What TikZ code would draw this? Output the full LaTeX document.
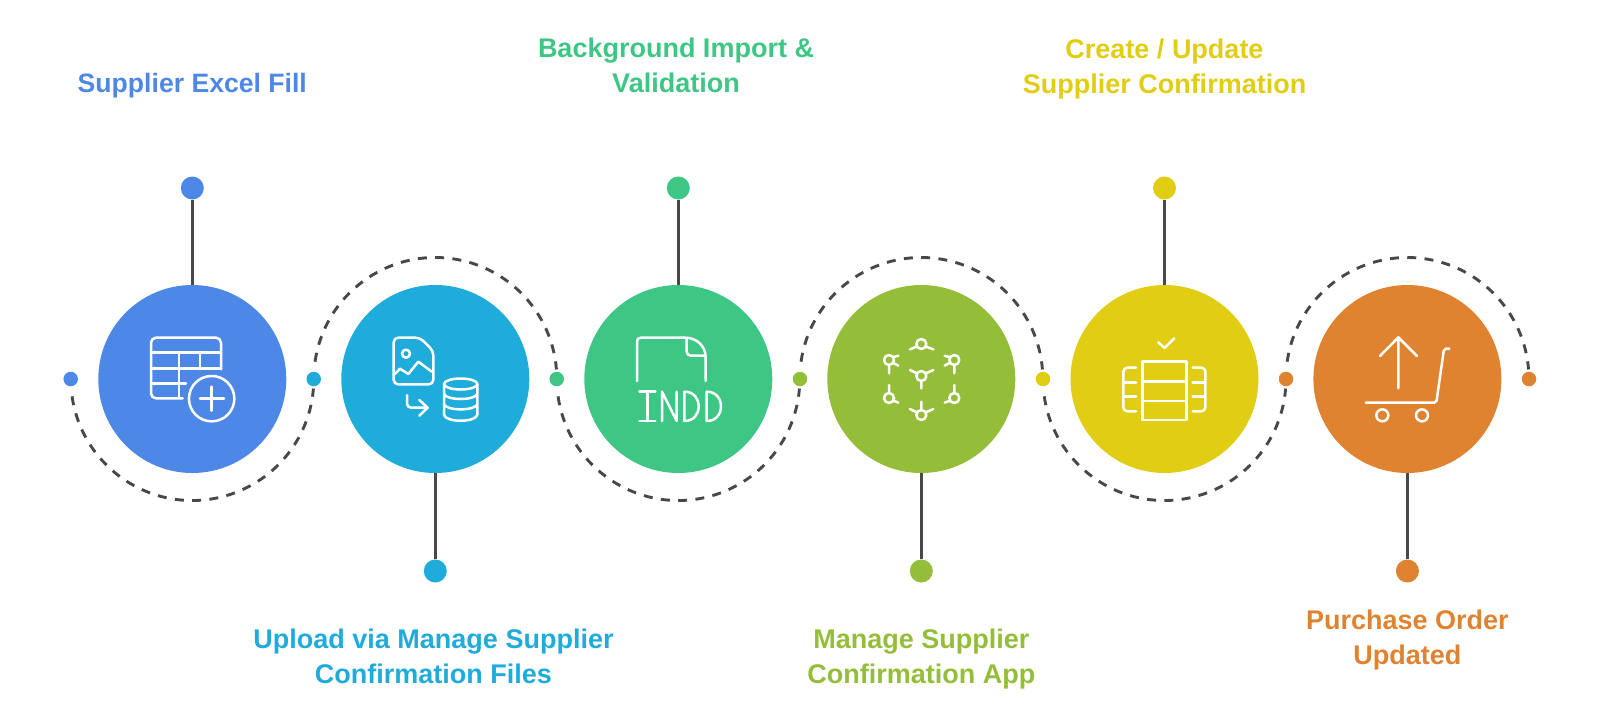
\documentclass[tikz,border=0pt]{standalone}
\usepackage{fontspec}
\setmainfont{Liberation Sans}
\definecolor{cA}{HTML}{4E88E6}
\definecolor{cB}{HTML}{1FACDA}
\definecolor{cC}{HTML}{3EC685}
\definecolor{cD}{HTML}{94BE39}
\definecolor{cE}{HTML}{E0CD14}
\definecolor{cF}{HTML}{DF8331}
\definecolor{ink}{HTML}{484848}
\tikzset{
  bigc/.style={circle,minimum size=188pt,inner sep=0pt,fill=#1},
  smalld/.style={circle,minimum size=14.5pt,inner sep=0pt,fill=#1},
  endd/.style={circle,minimum size=23pt,inner sep=0pt,fill=#1},
  stem/.style={draw=ink,line width=3.4pt},
  dash arc/.style={draw=ink,line width=2.9pt,dash pattern=on 9pt off 8.33pt},
  lbl/.style={font=\fontsize{27}{35}\selectfont\bfseries,align=center,text=#1,inner sep=0pt},
  ico/.style={draw=white,line width=2.5pt,line cap=round,line join=round},
}
\begin{document}
\begin{tikzpicture}[x=1pt,y=-1pt]
\useasboundingbox (0,0) rectangle (1600,716);
% big circles
\node[bigc=cA] (c1) at (192.3,379) {};
\node[bigc=cB] (c2) at (435.3,379) {};
\node[bigc=cC] (c3) at (678.3,379) {};
\node[bigc=cD] (c4) at (921.3,379) {};
\node[bigc=cE] (c5) at (1164.5,379) {};
\node[bigc=cF] (c6) at (1407.4,379) {};
% dashed arcs
\path (c1) ++(188.2:121.5pt) coordinate (a1);
\draw[dash arc] (a1) arc[start angle=188.2,end angle=355.5,radius=121.5pt];
\path (c2) ++(171.8:121.5pt) coordinate (a2);
\draw[dash arc] (a2) arc[start angle=171.8,end angle=4.5,radius=121.5pt];
\path (c3) ++(188.2:121.5pt) coordinate (a3);
\draw[dash arc] (a3) arc[start angle=188.2,end angle=355.5,radius=121.5pt];
\path (c4) ++(171.8:121.5pt) coordinate (a4);
\draw[dash arc] (a4) arc[start angle=171.8,end angle=4.5,radius=121.5pt];
\path (c5) ++(188.2:121.5pt) coordinate (a5);
\draw[dash arc] (a5) arc[start angle=188.2,end angle=355.5,radius=121.5pt];
\path (c6) ++(171.8:121.5pt) coordinate (a6);
\draw[dash arc] (a6) arc[start angle=171.8,end angle=4.5,radius=121.5pt];
% small dots
\node[smalld=cA] (d1) at (70.7,379) {};
\node[smalld=cB] (d2) at (313.7,379) {};
\node[smalld=cC] (d3) at (556.7,379) {};
\node[smalld=cD] (d4) at (800,379) {};
\node[smalld=cE] (d5) at (1043,379) {};
\node[smalld=cF] (d6) at (1286,379) {};
\node[smalld=cF] (d7) at (1529,379) {};
% stems and end dots
\node[endd=cA] (t1) at (192.3,188) {};
\node[endd=cB] (t2) at (435.3,571) {};
\node[endd=cC] (t3) at (678.3,188) {};
\node[endd=cD] (t4) at (921.3,571) {};
\node[endd=cE] (t5) at (1164.5,188) {};
\node[endd=cF] (t6) at (1407.4,571) {};
\draw[stem] (t1) -- (c1);
\draw[stem] (t2) -- (c2);
\draw[stem] (t3) -- (c3);
\draw[stem] (t4) -- (c4);
\draw[stem] (t5) -- (c5);
\draw[stem] (t6) -- (c6);
% labels
\node[lbl=cA,font=\fontsize{26.6}{35}\selectfont\bfseries] (l1) at (192.3,86) {Supplier Excel Fill};
\node[lbl=cB] (l2) at (433.5,656) {Upload via Manage Supplier\\Confirmation Files};
\node[lbl=cC] (l3) at (676,65.5) {Background Import \&\\Validation};
\node[lbl=cD] (l4) at (921.3,659) {Manage Supplier\\Confirmation App};
\node[lbl=cE] (l5) at (1164.5,69) {Create / Update\\Supplier Confirmation};
\node[lbl=cF] (l6) at (1407.4,640.5) {Purchase Order\\Updated};
% icons (coordinates in 3x crop units)
\begin{scope}[shift={(50,270)},x=0.33333pt,y=-0.33333pt]
  % icon 1
  \draw[ico,rounded corners=5pt] (513,298) -- (513,203) -- (303,203) -- (303,385) -- (398,385);
  \draw[ico] (303,247) -- (513,247) (303,295) -- (513,295) (303,340) -- (408,340)
             (387,247) -- (387,385) (450,247) -- (450,298);
  \draw[ico] (485,386) circle[radius=22.7pt];
  \draw[ico] (450,386) -- (522,386) (485,350) -- (485,422);
  % icon 2
  \draw[ico,rounded corners=4.5pt] (1110,203) -- (1031,203) -- (1031,343) -- (1150,343) -- (1150,243) -- cycle;
  \draw[ico] (1068,251) circle[radius=4pt];
  \draw[ico] (1035,312) -- (1050,296) -- (1075,312) -- (1105,275) -- (1145,305);
  \draw[ico,rounded corners=4pt] (1071,375) -- (1071,413) -- (1133,413);
  \draw[ico] (1108,390) -- (1133,413) -- (1108,437);
  \draw[ico] (1232,342) ellipse[x radius=16.7pt,y radius=5.5pt];
  \draw[ico] (1182,342) -- (1182,435) .. controls (1190,458) and (1274,458) .. (1282,435) -- (1282,342);
  \draw[ico] (1182,372) .. controls (1190,392) and (1274,392) .. (1282,372);
  \draw[ico] (1182,403) .. controls (1190,423) and (1274,423) .. (1282,403);
\end{scope}
\begin{scope}[shift={(570,270)},x=0.33333pt,y=-0.33333pt]
  % icon 3
  \draw[ico] (201,333) -- (201,215) .. controls (201,207) and (205,203) .. (213,203) -- (345,203)
     .. controls (380,203) and (407,228) .. (407,262) -- (407,333);
  \draw[ico,rounded corners=4pt] (350,205) -- (350,257) -- (407,257);
  \draw[ico] (208,365) -- (256,365) (208,453) -- (256,453) (232,365) -- (232,453);
  \draw[ico] (276,453) -- (276,365) -- (320,453) -- (320,365);
  \draw[ico] (343,365) -- (343,453) .. controls (372,453) and (386,432) .. (386,409) .. controls (386,386) and (372,365) .. (343,365);
  \draw[ico] (410,365) -- (410,453) .. controls (438,453) and (453,432) .. (453,409) .. controls (453,386) and (438,365) .. (410,365);
  % icon 4
  \foreach \cx/\cy in {1054/222,1054/318,1054/435,957/270,1153/270,957/384,1153/384}
    \draw[ico] (\cx,\cy) circle[radius=5pt];
  \draw[ico] (1020,238) -- (1040,230) (1090,238) -- (1068,230);
  \draw[ico] (1020,300) -- (1040,310) (1090,300) -- (1068,310) (1054,332) -- (1054,355);
  \draw[ico] (1020,417) -- (1040,427) (1090,417) -- (1068,427) (1054,395) -- (1054,420);
  \draw[ico] (985,257) -- (968,262) (985,287) -- (968,278) (957,285) -- (957,310);
  \draw[ico] (1124,257) -- (1140,262) (1124,287) -- (1140,278) (1153,285) -- (1153,310);
  \draw[ico] (957,345) -- (957,369) (985,398) -- (970,392);
  \draw[ico] (1153,345) -- (1153,369) (1124,398) -- (1140,392);
\end{scope}
\begin{scope}[shift={(1060,270)},x=0.33333pt,y=-0.33333pt]
  % icon 5
  \draw[ico] (247,275) rectangle (380,450);
  \draw[ico] (247,335) -- (380,335) (247,393) -- (380,393);
  \draw[ico,rounded corners=4pt] (228,293) -- (190,293) -- (190,424) -- (228,424);
  \draw[ico,rounded corners=4pt] (398,293) -- (436,293) -- (436,424) -- (398,424);
  \draw[ico] (190,338) -- (228,338) (190,380) -- (228,380) (398,338) -- (436,338) (398,380) -- (436,380);
  \draw[ico] (295,217) -- (314,234) -- (343,205);
  % icon 6
  \draw[ico] (1015,355) -- (1015,202) (960,258) -- (1015,202) -- (1071,258);
  \draw[ico,rounded corners=2pt] (917,398) -- (1129,398) -- (1152,236) -- (1168,236);
  \draw[ico] (967,436) circle[radius=6pt];
  \draw[ico] (1086,436) circle[radius=6pt];
\end{scope}
\end{tikzpicture}
\end{document}
